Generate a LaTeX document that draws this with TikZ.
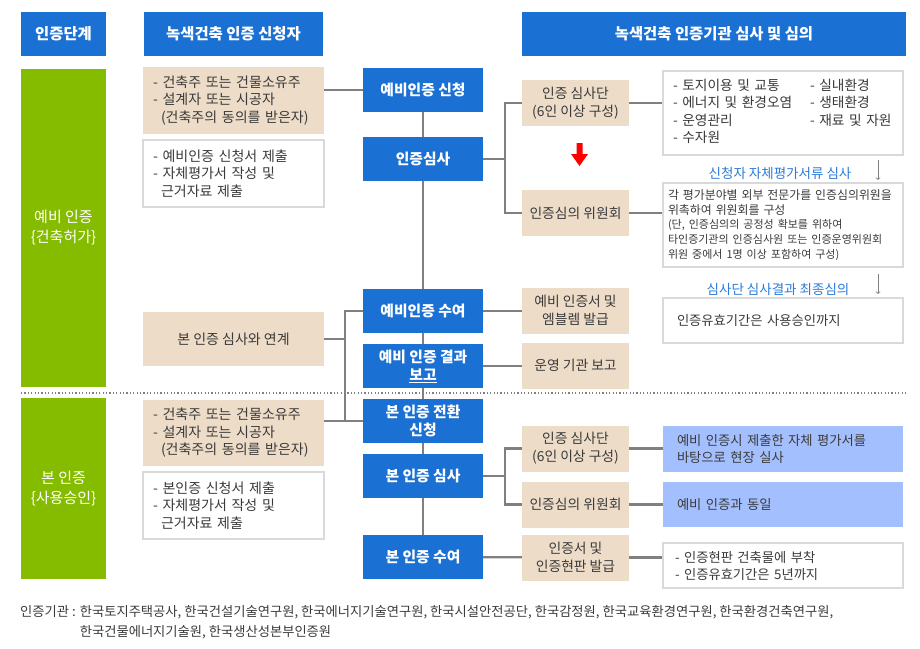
\documentclass[tikz,border=0pt]{standalone}
\usepackage{fontspec}
\setmainfont{Noto Sans CJK KR}
\usepackage{tikz}
\usetikzlibrary{calc}
\definecolor{certblue}{HTML}{1B70D3}
\definecolor{certgreen}{HTML}{86BC00}
\definecolor{beige}{HTML}{EDDCC8}
\definecolor{skyblue}{HTML}{A4BFFD}
\definecolor{linegray}{HTML}{808080}
\definecolor{bordergray}{HTML}{D9D9D9}
\definecolor{notetext}{HTML}{2A7BDB}
\definecolor{textgray}{HTML}{3A3A3A}
\tikzset{
	box/.style={inner sep=0pt, align=center, text=textgray, font=\fontsize{14}{17.5}\selectfont},
	headbox/.style={box, fill=certblue, text=white, minimum height=44pt, font=\fontsize{15.4}{18}\selectfont\bfseries},
	greenbox/.style={box, fill=certgreen, text=white, minimum width=85pt, font=\fontsize{15}{20}\selectfont},
	bluebox/.style={box, fill=certblue, text=white, minimum width=120pt, minimum height=44pt, font=\fontsize{14.8}{18.5}\selectfont\bfseries},
	beigebox/.style={box, fill=beige},
	whitebox/.style={box, fill=white, draw=bordergray, line width=1.2pt},
	skybox/.style={box, fill=skyblue},
	applist/.style={align=left, text width=161pt, inner xsep=10pt, minimum width=181pt},
	orgbox/.style={minimum width=107pt, minimum height=46pt, font=\fontsize{13.8}{18}\selectfont},
	detail/.style={font=\fontsize{13.3}{17}\selectfont},
	conn/.style={draw=linegray, line width=2.2pt},
	thinarrow/.style={->, draw=linegray, line width=0.8pt},
	note/.style={text=notetext, inner sep=0pt, font=\fontsize{13.5}{17}\selectfont},
}

\begin{document}
\begin{tikzpicture}[x=1pt, y=-1pt]
			%%%%% START %%%%%
			
			\useasboundingbox (0,0) rectangle (920,648);
			
			% column heads
			\node[headbox, minimum width=85pt] (hStage) at (63.5,34) {인증단계};
			\node[headbox, minimum width=179pt] (hApp) at (233.5,34) {녹색건축 인증 신청자};
			\node[headbox, minimum width=384pt] (hOrg) at (714,34) {녹색건축 인증기관 심사 및 심의};
			
			% stages
			\node[greenbox, minimum height=318pt] (gPre) at (63.5,228) {예비 인증\\\{건축허가\}};
			\node[greenbox, minimum height=181pt] (gMain) at (63.5,488.5) {본 인증\\\{사용승인\}};
			
			\draw[linegray, line width=1.2pt, dash pattern=on 1.2pt off 2.2pt] (21,393) -- (906,393);
			
			% applicant
			\node[beigebox, applist, minimum height=67pt] (aPre1) at (233.5,100.5) {- 건축주 또는 건물소유주\\- 설계자 또는 시공자\\\hspace*{8pt}(건축주의 동의를 받은자)};
			\node[whitebox, applist, minimum height=67pt] (aPre2) at (233.5,173.5) {- 예비인증 신청서 제출\\- 자체평가서 작성 및\\\hspace*{8pt}근거자료 제출};
			\node[beigebox, minimum width=181pt, minimum height=54pt] (aLink) at (233.5,339) {본 인증 심사와 연계};
			\node[beigebox, applist, minimum height=66pt] (aMain1) at (233.5,433) {- 건축주 또는 건물소유주\\- 설계자 또는 시공자\\\hspace*{8pt}(건축주의 동의를 받은자)};
			\node[whitebox, applist, minimum height=67pt] (aMain2) at (233.5,505.5) {- 본인증 신청서 제출\\- 자체평가서 작성 및\\\hspace*{8pt}근거자료 제출};
			
			% procedure
			\node[bluebox] (c1) at (423,90) {예비인증 신청};
			\node[bluebox] (c2) at (423,159) {인증심사};
			\node[bluebox] (c3) at (423,311) {예비인증 수여};
			\node[bluebox] (c4) at (423,366) {예비 인증 결과\\\underline{보고}};
			\node[bluebox] (c5) at (423,421) {본 인증 전환\\신청};
			\node[bluebox] (c6) at (423,476) {본 인증 심사};
			\node[bluebox] (c7) at (423,557) {본 인증 수여};
			
			% certification body
			\node[beigebox, orgbox] (b1) at (575.5,103) {인증 심사단\\(6인 이상 구성)};
			\node[beigebox, orgbox] (b2) at (575.5,213) {인증심의 위원회};
			\node[beigebox, orgbox] (b3) at (575.5,310.5) {예비 인증서 및\\엠블렘 발급};
			\node[beigebox, orgbox] (b4) at (575.5,365.5) {운영 기관 보고};
			\node[beigebox, orgbox] (b5) at (575.5,448.5) {인증 심사단\\(6인 이상 구성)};
			\node[beigebox, orgbox] (b6) at (575.5,504.5) {인증심의 위원회};
			\node[beigebox, orgbox] (b7) at (575.5,557.5) {인증서 및\\인증현판 발급};
			
			\fill[red] (576.5,143) -- (582.5,143) -- (582.5,154) -- (588,154) -- (579.5,166) -- (571,154) -- (576.5,154) -- cycle;
			
			% details
			\node[whitebox, align=left, text width=220pt, inner xsep=10pt, minimum height=84pt, font=\fontsize{13.7}{17.5}\selectfont] (r1) at (783,113) {\begin{tabular}{@{}p{137pt}@{}l@{}}- 토지이용 및 교통 & - 실내환경\\- 에너지 및 환경오염 & - 생태환경\\- 운영관리 & - 재료 및 자원\\- 수자원 & \end{tabular}};
			\node[whitebox, align=left, text width=236pt, inner xsep=2pt, minimum height=84pt, font=\fontsize{11.9}{14.7}\selectfont] (r2) at (783,225) {\hspace*{3pt}각 평가분야별 외부 전문가를 인증심의위원을\\\hspace*{3pt}위촉하여 위원회를 구성\\{\fontsize{11}{14.7}\selectfont\hspace*{3pt}(단, 인증심의의 공정성 확보를 위하여\\\hspace*{3pt}타인증기관의 인증심사원 또는 인증운영위원회\\\hspace*{3pt}위원 중에서 1명 이상 포함하여 구성)}};
			\node[whitebox, detail, align=left, text width=212pt, inner xsep=14pt, minimum height=45pt] (r3) at (783,320.5) {인증유효기간은 사용승인까지};
			\node[skybox, detail, align=left, text width=212pt, inner xsep=14pt, minimum height=46pt] (r4) at (783,449) {예비 인증시 제출한 자체 평가서를\\바탕으로 현장 실사};
			\node[skybox, detail, align=left, text width=212pt, inner xsep=14pt, minimum height=45pt] (r5) at (783,504.5) {예비 인증과 동일};
			\node[whitebox, detail, align=left, text width=216pt, inner xsep=12pt, minimum height=45pt] (r6) at (783,565.5) {- 인증현판 건축물에 부착\\- 인증유효기간은 5년까지};
			
			\node[note] (nSelf) at (780,173) {신청자 자체평가서류 심사};
			\node[note] (nFinal) at (778,289) {심사단 심사결과 최종심의};
			\coordinate (d1) at (878,160);
			\coordinate (d2) at (878,180);
			\coordinate (d3) at (878,274);
			\coordinate (d4) at (878,294);
			\draw[thinarrow] (d1) -- (d2);
			\draw[thinarrow] (d3) -- (d4);
			
			% connectors
			\draw[conn] (c1) -- (c2);
			\draw[conn] (c2) -- (c3);
			\draw[conn] (c3) -- (c4);
			\draw[conn] (c4) -- (c5);
			\draw[conn] (c5) -- (c6);
			\draw[conn] (c6) -- (c7);
			
			\draw[conn] (c1.west -| aPre1.east) -- (c1.west);
			\coordinate (kB) at (345,339);
			\draw[conn] (aLink) -- (kB);
			\draw[conn] (c3.west) -| (kB) -- (kB |- c5.west);
			\draw[conn] (c5.west -| aMain1.east) -- (c5.west);
			
			\coordinate (kA) at (505,159);
			\draw[conn] (c2) -- (kA);
			\draw[conn] (b1.west) -| (kA) |- (b2.west);
			\coordinate (kC) at (505,476);
			\draw[conn] (c6) -- (kC);
			\draw[conn] (b5.west) -| (kC) |- (b6.west);
			
			\draw[conn] (c3.east) -- (c3.east -| b3.west);
			\draw[conn] (c4.east) -- (c4.east -| b4.west);
			\draw[conn] (c7) -- (b7);
			
			\draw[conn] (b1.east) -- (b1.east -| r1.west);
			\draw[conn] (b2.east) -- (b2.east -| r2.west);
			\draw[conn] (b5.east) -- (b5.east -| r4.west);
			\draw[conn] (b6.east) -- (b6.east -| r5.west);
			\draw[conn] (b7.east) -- (b7.east -| r6.west);
			
			% footer
			\node[anchor=base west, inner sep=0pt, text=textgray, font=\fontsize{13.3}{20}\selectfont] (fOrg) at (20,616) {\begin{tabular}[t]{@{}l@{\hspace{4pt}}l@{}}인증기관 : & 한국토지주택공사, 한국건설기술연구원, 한국에너지기술연구원, 한국시설안전공단, 한국감정원, 한국교육환경연구원, 한국환경건축연구원,\\ & 한국건물에너지기술원, 한국생산성본부인증원\end{tabular}};
			
			%%%%% END %%%%%
\end{tikzpicture}
\end{document}
